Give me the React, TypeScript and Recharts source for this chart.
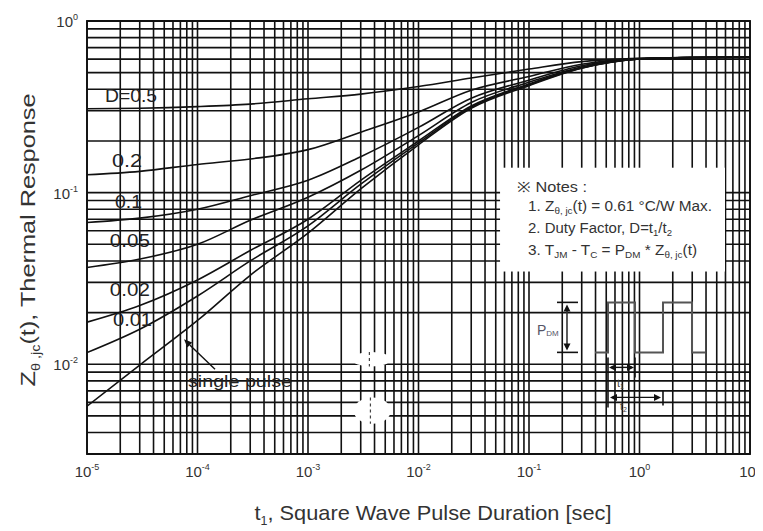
import React from 'react';
import {
  LineChart,
  Line,
  XAxis,
  YAxis,
  CartesianGrid,
  ReferenceArea,
  ReferenceDot,
  ReferenceLine,
} from 'recharts';

const FONT = '"Liberation Sans", Arial, Helvetica, sans-serif';

// pulse duration t1 [s]
const tPoints = [1e-5, 3e-5, 1e-4, 3e-4, 1e-3, 3e-3, 1e-2, 3e-2, 1e-1, 3e-1, 1, 3, 10];

// thermal response Z(t)
const zD05 = [0.308, 0.31, 0.317, 0.328, 0.352, 0.375, 0.415, 0.465, 0.525, 0.58, 0.606, 0.613, 0.616];
const zD02 = [0.127, 0.133, 0.146, 0.157, 0.178, 0.225, 0.295, 0.395, 0.475, 0.56, 0.604, 0.613, 0.616];
const zD01 = [0.067, 0.071, 0.08, 0.096, 0.118, 0.162, 0.24, 0.355, 0.452, 0.548, 0.603, 0.613, 0.616];
const zD005 = [0.0366, 0.041, 0.05, 0.069, 0.094, 0.135, 0.215, 0.335, 0.44, 0.54, 0.602, 0.613, 0.616];
const zD002 = [0.0176, 0.022, 0.031, 0.046, 0.07, 0.118, 0.2, 0.32, 0.43, 0.535, 0.601, 0.613, 0.616];
const zD001 = [0.0117, 0.016, 0.025, 0.04, 0.064, 0.112, 0.195, 0.315, 0.425, 0.532, 0.6, 0.613, 0.616];
const zSingle = [0.0057, 0.0099, 0.018, 0.033, 0.058, 0.105, 0.19, 0.31, 0.42, 0.53, 0.6, 0.613, 0.616];

const seriesList = [zD05, zD02, zD01, zD005, zD002, zD001, zSingle];

// grid / tick values
const xDecades = [1e-5, 1e-4, 1e-3, 1e-2, 1e-1, 1];
const yDecades = [1e-3, 1e-2, 1e-1];
const multiples = [1, 2, 3, 4, 5, 6, 7, 8, 9];
const xTicks = [...xDecades.flatMap((d) => multiples.map((m) => +(d * m).toPrecision(6))), 10];
const yTicks = [...yDecades.flatMap((d) => multiples.map((m) => +(d * m).toPrecision(6))), 1].filter(
  (v) => v >= 0.003
);

// curve labels (text, x, y in data units, width)
const curveLabels = [
  { text: 'D=0.5', t: 1.455e-5, z: 0.338, w: 52 },
  { text: '0.2', t: 1.68e-5, z: 0.1416, w: 30 },
  { text: '0.1', t: 1.79e-5, z: 0.0818, w: 27 },
  { text: '0.05', t: 1.61e-5, z: 0.0485, w: 40 },
  { text: '0.02', t: 1.61e-5, z: 0.02485, w: 40 },
  { text: '0.01', t: 1.72e-5, z: 0.01663, w: 39 },
  { text: 'single pulse', t: 8.2e-5, z: 0.00735, w: 104 },
];

const arrowTail = { t: 1.44e-4, z: 0.00935 };
const arrowTip = { t: 7.55e-5, z: 0.01397 };

const notesBox = { x1: 0.0547, x2: 5.94, y1: 0.0347, y2: 0.1397 };
const pulseBox = { x1: 0.1133, x2: 4.35, y1: 0.00533, y2: 0.02453 };

// white smudges in the scan
const smudges = [
  { x1: 2.5e-3, x2: 5.6e-3, y1: 0.0097, y2: 0.0118 },
  { x1: 2.6e-3, x2: 5.6e-3, y1: 0.0045, y2: 0.0064 },
];

const isDecade = (v: number) => Math.abs(Math.log10(v) - Math.round(Math.log10(v))) < 1e-6;

const XTick = (props: any) => {
  const { x, y, payload } = props;
  const v = payload.value;
  if (!isDecade(v)) return <g />;
  const e = Math.round(Math.log10(v));
  return (
    <text x={x} y={y} dy={23} textAnchor="middle" fill="#333" fontSize={15} fontFamily={FONT}>
      10
      <tspan fontSize={9} dy={-7}>
        {e}
      </tspan>
    </text>
  );
};

const YTick = (props: any) => {
  const { x, y, payload } = props;
  const v = payload.value;
  if (!isDecade(v)) return <g />;
  const e = Math.round(Math.log10(v));
  return (
    <text x={x} y={y} dy={6} textAnchor="end" fill="#333" fontSize={15} fontFamily={FONT}>
      10
      <tspan fontSize={9} dy={-7}>
        {e}
      </tspan>
    </text>
  );
};

const XTitle = (props: any) => {
  const vb = props.viewBox || { x: 79, y: 446, width: 663, height: 40 };
  return (
    <text
      x={vb.x + vb.width / 2 + 14.5}
      y={vb.y + 66}
      textAnchor="middle"
      fill="#333"
      fontSize={21}
      fontFamily={FONT}
      textLength={357}
      lengthAdjust="spacingAndGlyphs"
    >
      t
      <tspan fontSize={12} dy={5}>
        1
      </tspan>
      <tspan dy={-5}>, Square Wave Pulse Duration [sec]</tspan>
    </text>
  );
};

const YTitle = (props: any) => {
  const vb = props.viewBox || { x: 19, y: 13, width: 60, height: 433 };
  const cx = vb.x + 8;
  const cy = vb.y + vb.height / 2 + 2.5;
  return (
    <text
      x={cx}
      y={cy}
      transform={`rotate(-90 ${cx} ${cy})`}
      textAnchor="middle"
      fill="#333"
      fontSize={21}
      fontFamily={FONT}
      textLength={293}
      lengthAdjust="spacingAndGlyphs"
    >
      Z
      <tspan fontSize={12} dy={5}>
        θ ,jc
      </tspan>
      <tspan dy={-5}>(t), Thermal Response</tspan>
    </text>
  );
};

const makeLabelShape = (text: string, w: number, size: number) => (p: any) => (
  <text
    x={p.cx}
    y={p.cy}
    fill="#222"
    fontSize={size}
    fontFamily={FONT}
    textLength={w}
    lengthAdjust="spacingAndGlyphs"
  >
    {text}
  </text>
);

const ArrowShape = (p: any) => {
  const { x1, y1, x2, y2 } = p;
  const ang = Math.atan2(y2 - y1, x2 - x1);
  const L = 8;
  const W = 3.5;
  const bx = x2 - L * Math.cos(ang);
  const by = y2 - L * Math.sin(ang);
  const px = -Math.sin(ang) * W;
  const py = Math.cos(ang) * W;
  return (
    <g>
      <line x1={x1} y1={y1} x2={bx} y2={by} stroke="#111" strokeWidth={1.4} />
      <polygon points={`${x2},${y2} ${bx + px},${by + py} ${bx - px},${by - py}`} fill="#111" />
    </g>
  );
};

const SmudgeShape = (p: any) => {
  const { x, y, width, height } = p;
  return (
    <g>
      <ellipse cx={x + width / 2} cy={y + height / 2} rx={width / 2} ry={height / 2} fill="#fff" />
      <line
        x1={x + width * 0.45}
        y1={y}
        x2={x + width * 0.45}
        y2={y + height}
        stroke="#444"
        strokeWidth={1.2}
        strokeDasharray="3 3"
      />
    </g>
  );
};

const NotesShape = (p: any) => {
  const { x, y, width, height } = p;
  const sub = (s: string) => (
    <tspan fontSize={9} dy={3}>
      {s}
    </tspan>
  );
  const back = (s: string) => (
    <tspan fontSize={14} dy={-3}>
      {s}
    </tspan>
  );
  return (
    <g fontFamily={FONT}>
      <rect x={x} y={y} width={width} height={height} fill="#fff" />
      <g fill="#333" fontSize={14}>
        <text x={x + 17} y={y + 24} textLength={70} lengthAdjust="spacingAndGlyphs">
          ※ Notes :
        </text>
        <text x={x + 28} y={y + 43} textLength={184} lengthAdjust="spacingAndGlyphs">
          1. Z{sub('θ, jc')}
          {back('(t) = 0.61 °C/W Max.')}
        </text>
        <text x={x + 28} y={y + 65} textLength={144} lengthAdjust="spacingAndGlyphs">
          2. Duty Factor, D=t{sub('1')}
          {back('/t')}
          {sub('2')}
        </text>
        <text x={x + 28} y={y + 87} textLength={169} lengthAdjust="spacingAndGlyphs">
          3. T{sub('JM')}
          {back(' - T')}
          {sub('C')}
          {back(' = P')}
          {sub('DM')}
          {back(' * Z')}
          {sub('θ, jc')}
          {back('(t)')}
        </text>
      </g>
    </g>
  );
};

const PulseShape = (p: any) => {
  const ox = p.x;
  const oy = p.y;
  const P = (a: number, b: number) => `${ox + a},${oy + b}`;
  const head = (tipX: number, tipY: number, dx: number, dy: number) => {
    const L = 7;
    const W = 3.5;
    const bx = tipX - dx * L;
    const by = tipY - dy * L;
    return (
      <polygon
        points={`${ox + tipX},${oy + tipY} ${ox + bx - dy * W},${oy + by + dx * W} ${ox + bx + dy * W},${
          oy + by - dx * W
        }`}
        fill="#111"
      />
    );
  };
  return (
    <g fontFamily={FONT}>
      {/* P_DM dimension */}
      <line x1={ox + 22} y1={oy + 5} x2={ox + 43} y2={oy + 5} stroke="#111" strokeWidth={1.6} />
      <line x1={ox + 22} y1={oy + 55} x2={ox + 43} y2={oy + 55} stroke="#111" strokeWidth={1.6} />
      <line x1={ox + 32} y1={oy + 10} x2={ox + 32} y2={oy + 50} stroke="#333" strokeWidth={1.6} />
      {head(32, 7, 0, -1)}
      {head(32, 53, 0, 1)}
      <text x={ox + 2} y={oy + 38} fill="#556" fontSize={14}>
        P
        <tspan fontSize={8} dy={1}>
          DM
        </tspan>
      </text>
      {/* waveform */}
      <polyline
        points={[
          P(60, 55),
          P(73, 55),
          P(73, 5),
          P(100, 5),
          P(100, 55),
          P(128, 55),
          P(128, 5),
          P(157, 5),
          P(157, 55),
          P(170, 55),
        ].join(' ')}
        fill="none"
        stroke="#555"
        strokeWidth={2}
      />
      {/* t1 dimension */}
      <line x1={ox + 73} y1={oy + 60} x2={ox + 73} y2={oy + 110} stroke="#111" strokeWidth={1.6} />
      <line x1={ox + 100} y1={oy + 60} x2={ox + 100} y2={oy + 80} stroke="#111" strokeWidth={1.6} />
      <line x1={ox + 76} y1={oy + 70} x2={ox + 97} y2={oy + 70} stroke="#111" strokeWidth={1.4} />
      {head(74, 70, -1, 0)}
      {head(99, 70, 1, 0)}
      <text x={ox + 82} y={oy + 90} fill="#444" fontSize={11}>
        t
        <tspan fontSize={7} dy={2}>
          1
        </tspan>
      </text>
      {/* t2 dimension */}
      <line x1={ox + 128} y1={oy + 93} x2={ox + 128} y2={oy + 108} stroke="#111" strokeWidth={1.6} />
      <line x1={ox + 77} y1={oy + 100} x2={ox + 120} y2={oy + 100} stroke="#111" strokeWidth={1.4} />
      {head(75, 100, -1, 0)}
      {head(126, 100, 1, 0)}
      <text x={ox + 85} y={oy + 113} fill="#444" fontSize={11}>
        t
        <tspan fontSize={7} dy={2}>
          2
        </tspan>
      </text>
    </g>
  );
};

export default function App() {
  return (
    <div style={{ width: 755, height: 523, background: '#fff' }}>
      <LineChart
        width={755}
        height={523}
        margin={{ top: 13, right: 13, bottom: 37, left: 19 }}
        style={{ overflow: 'visible' }}
      >
        <CartesianGrid stroke="#111" strokeWidth={1.6} />
        <XAxis
          dataKey="t"
          type="number"
          scale="log"
          domain={[1e-5, 10]}
          allowDataOverflow
          ticks={xTicks}
          interval={0}
          tick={<XTick />}
          tickSize={0}
          tickMargin={0}
          axisLine={false}
          tickLine={false}
          height={40}
          label={{ content: (pr: any) => <XTitle {...pr} /> }}
        />
        <YAxis
          type="number"
          scale="log"
          domain={[0.003, 1]}
          allowDataOverflow
          ticks={yTicks}
          interval={0}
          tick={<YTick />}
          tickSize={0}
          tickMargin={9}
          axisLine={false}
          tickLine={false}
          width={60}
          label={{ content: (pr: any) => <YTitle {...pr} /> }}
        />
        <ReferenceArea
          x1={1e-5}
          x2={10}
          y1={0.003}
          y2={1}
          fill="none"
          stroke="#111"
          strokeWidth={1.8}
          ifOverflow="visible"
        />
        {smudges.map((s, i) => (
          <ReferenceArea key={i} x1={s.x1} x2={s.x2} y1={s.y1} y2={s.y2} shape={SmudgeShape} />
        ))}
        <ReferenceArea
          x1={notesBox.x1}
          x2={notesBox.x2}
          y1={notesBox.y1}
          y2={notesBox.y2}
          shape={NotesShape}
        />
        <ReferenceArea
          x1={pulseBox.x1}
          x2={pulseBox.x2}
          y1={pulseBox.y1}
          y2={pulseBox.y2}
          shape={PulseShape}
        />
        {seriesList.map((zs, i) => (
          <Line
            key={i}
            data={tPoints.map((t, k) => ({ t, z: zs[k] }))}
            dataKey="z"
            type="monotone"
            stroke="#111"
            strokeWidth={1.6}
            dot={false}
            activeDot={false}
            isAnimationActive={false}
          />
        ))}
        {curveLabels.map((l) => (
          <ReferenceDot
            key={l.text}
            x={l.t}
            y={l.z}
            r={1}
            shape={makeLabelShape(l.text, l.w, l.text === 'single pulse' ? 16 : 18)}
          />
        ))}
        <ReferenceLine
          segment={[
            { x: arrowTail.t, y: arrowTail.z },
            { x: arrowTip.t, y: arrowTip.z },
          ]}
          shape={ArrowShape}
        />
      </LineChart>
    </div>
  );
}
